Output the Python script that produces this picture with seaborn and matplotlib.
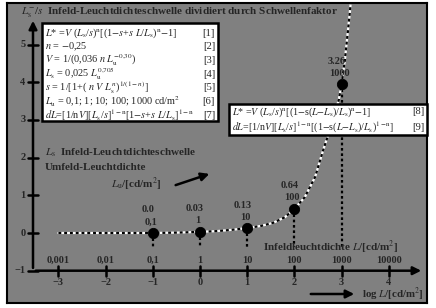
import matplotlib
matplotlib.use('Agg')
import matplotlib.pyplot as plt
from matplotlib.patches import Rectangle
import numpy as np
import pandas as pd
import seaborn as sns

# curve: log L  ->  Ls/s
curve_x = [-3.0, -2.0, -1.0, -0.5, 0.0, 0.35, 0.64, 1.0, 1.3, 1.55, 1.8, 2.0,
           2.22, 2.44, 2.61, 2.75, 2.94, 3.0, 3.07, 3.18, 3.22]
curve_y = [0.0, 0.0, 0.0, 0.01, 0.03, 0.05, 0.08, 0.13, 0.19, 0.27, 0.42, 0.64,
           0.95, 1.49, 2.20, 2.73, 3.53, 3.95, 4.59, 5.92, 6.5]

# marked points (Lu = 0,1 ... 1000)
pt_x = [-1, 0, 1, 2, 3]
pt_y = [0.0, 0.03, 0.13, 0.64, 3.95]
val_labels = ['0.0', '0.03', '0.13', '0.64', '3.26']
lu_labels = ['0,1', '1', '10', '100', '1000']

# axes
xticks = [-3, -2, -1, 0, 1, 2, 3, 4]
xtick_top = ['0,001', '0,01', '0,1', '1', '10', '100', '1000', '10000']
yticks = [-1, 0, 1, 2, 3, 4, 5]

box1_lines = [
    r'$L$* =$V$ ($L_\mathrm{s}$/$s$)$^\mathrm{n}$[(1$-$$s$+$s$ $L$/$L_\mathrm{s}$)$^\mathrm{n}$$-$1]',
    r'$n$ = $-$0,25',
    r'$V$ = 1/(0,036 $n$ $L_\mathrm{u}^{-0{,}30}$)',
    r'$L_\mathrm{s}$ = 0,025 $L_\mathrm{u}^{0{,}705}$',
    r'$s$ = 1/[1+( $n$ $V$ $L_\mathrm{s}^{n}$)$^{1/(1-n)}$]',
    r'$L_\mathrm{u}$ = 0,1; 1; 10; 100; 1000 cd/m$^2$',
    r'$dL$=[1/n$V$][$L_\mathrm{s}$/$s$]$^\mathrm{1-n}$[1$-$$s$+$s$ $L$/$L_\mathrm{s}$]$^\mathrm{1-n}$',
]
box1_nums = ['[1]', '[2]', '[3]', '[4]', '[5]', '[6]', '[7]']
box2_lines = [
    r'$L$* =$V$ ($L_\mathrm{s}$/$s$)$^\mathrm{n}$[(1$-$s($L$$-$$L_\mathrm{s}$)/$L_\mathrm{s}$)$^\mathrm{n}$$-$1]',
    r'$dL$=[1/n$V$][$L_\mathrm{s}$/$s$]$^\mathrm{1-n}$[(1$-$s($L$$-$$L_\mathrm{s}$)/$L_\mathrm{s}$)$^\mathrm{1-n}$]',
]
box2_nums = ['[8]', '[9]']

sns.set_theme(style='white')
plt.rcParams['font.family'] = ['Liberation Serif', 'DejaVu Serif']
plt.rcParams['mathtext.fontset'] = 'stix'

W, H = 436, 308
fig = plt.figure(figsize=(W / 100, H / 100), dpi=100)
fig.patch.set_facecolor('white')


def fx(p):
    return p / W


def fy(p):
    return 1 - p / H


# frame in pixels: x 7..427, y 3..303
ax = fig.add_axes([fx(7), fy(303), (427 - 7) / W, (303 - 3) / H])
ax.set_facecolor('#808080')
for s in ax.spines.values():
    s.set_color('black')
    s.set_linewidth(1.5)
ax.set_xticks([])
ax.set_yticks([])
# pixel mapping: x=0 at px 200, 47.2 px/unit ; y=0 at py 233, 37.7 px/unit
ax.set_xlim((7 - 200) / 47.2, (427 - 200) / 47.2)
ax.set_ylim((233 - 303) / 37.7, (233 - 3) / 37.7)

x_axis_pos = (33 - 200) / 47.2

# axes with arrows
ax.annotate('', xy=((424 - 200) / 47.2, -1), xytext=(x_axis_pos, -1),
            arrowprops=dict(arrowstyle='-|>', lw=1.8, color='black', mutation_scale=12))
ax.annotate('', xy=(x_axis_pos, (233 - 18) / 37.7), xytext=(x_axis_pos, -1),
            arrowprops=dict(arrowstyle='-|>', lw=1.8, color='black', mutation_scale=12))
for xt, lab in zip(xticks, xtick_top):
    ax.plot([xt, xt], [-1.13, -0.87], color='black', lw=1.8)
    ax.text(xt, -0.73, lab, ha='center', va='center', fontsize=7.5, fontweight='bold')
    ax.text(xt, -1.30, str(xt).replace('-', '\u2212'), ha='center', va='center',
            fontsize=7.5, fontweight='bold')
for yt in yticks:
    ax.plot([x_axis_pos - 0.1, x_axis_pos + 0.1], [yt, yt], color='black', lw=1.8)
    ax.text(x_axis_pos - 0.16, yt, str(yt).replace('-', '\u2212'), ha='right', va='center',
            fontsize=7.5, fontweight='bold')

# vertical dotted lines below the points
for x0, y0 in zip(pt_x, pt_y):
    ax.plot([x0, x0], [y0, -0.37], color='black', lw=1.6, linestyle=(0, (1.2, 1.2)))

# curve: white under black dashes
df = pd.DataFrame({'logL': curve_x, 'LsS': curve_y})
sns.lineplot(data=df, x='logL', y='LsS', color='white', lw=1.6, sort=False, ax=ax)
sns.lineplot(data=df, x='logL', y='LsS', color='black', lw=1.6, sort=False, ax=ax,
             linestyle=(0, (1.3, 1.3)))
pts = pd.DataFrame({'x': pt_x, 'y': pt_y})
sns.scatterplot(data=pts, x='x', y='y', color='black', s=55, edgecolor='black', zorder=5, ax=ax)
ax.set_xlabel('')
ax.set_ylabel('')

for x0, y0, v, lu in zip(pt_x, pt_y, val_labels, lu_labels):
    ax.annotate(v, (x0, y0), xytext=(-5, 23), textcoords='offset pixels', ha='center',
                va='center', fontsize=7.5, fontweight='bold')
    ax.annotate(lu, (x0, y0), xytext=(-2, 11), textcoords='offset pixels', ha='center',
                va='center', fontsize=7.5, fontweight='bold')

# title
fig.text(fx(21), fy(12), r'$L_\mathrm{s}^{-}/s$  Infeld-Leuchtdichteschwelle dividiert durch Schwellenfaktor',
         ha='left', va='center', fontsize=8, fontweight='bold')

# equation box 1
fig.patches.append(Rectangle((fx(42), fy(121)), (218 - 42) / W, (121 - 23) / H,
                             transform=fig.transFigure, facecolor='white', edgecolor='black',
                             lw=1.8, zorder=3, figure=fig))
for i, (t, n) in enumerate(zip(box1_lines, box1_nums)):
    yy = 33 + i * 13.7
    fig.text(fx(45), fy(yy), t, ha='left', va='center', fontsize=7.4, zorder=4)
    fig.text(fx(215), fy(yy), n, ha='right', va='center', fontsize=7.6, zorder=4)

# equation box 2
fig.patches.append(Rectangle((fx(229), fy(135)), (427 - 229) / W, (135 - 104) / H,
                             transform=fig.transFigure, facecolor='white', edgecolor='black',
                             lw=1.8, zorder=3, figure=fig))
for i, (t, n) in enumerate(zip(box2_lines, box2_nums)):
    yy = 112 + i * 15
    fig.text(fx(232), fy(yy), t, ha='left', va='center', fontsize=7.2, zorder=4)
    fig.text(fx(424), fy(yy), n, ha='right', va='center', fontsize=7.6, zorder=4)

# middle annotations
fig.text(fx(45), fy(153), r'$L_\mathrm{s}$  Infeld-Leuchtdichteschwelle', ha='left', va='center',
         fontsize=8, fontweight='bold')
fig.text(fx(45), fy(168), 'Umfeld-Leuchtdichte', ha='left', va='center',
         fontsize=8, fontweight='bold')
fig.text(fx(111), fy(184), r'$L_\mathrm{u}$/[cd/m$^2$]', ha='left', va='center',
         fontsize=8, fontweight='bold')
ax.annotate('', xy=((212 - 200) / 47.2, (233 - 173) / 37.7),
            xytext=((173 - 200) / 47.2, (233 - 186) / 37.7),
            arrowprops=dict(arrowstyle='-|>', lw=1.8, color='black', mutation_scale=12))

fig.text(fx(263), fy(247), r'Infeldleuchtdichte $L$/[cd/m$^2$]', ha='left', va='center',
         fontsize=8, fontweight='bold')
ax.annotate('', xy=((357 - 200) / 47.2, (233 - 294) / 37.7),
            xytext=((308 - 200) / 47.2, (233 - 294) / 37.7),
            arrowprops=dict(arrowstyle='-|>', lw=1.8, color='black', mutation_scale=12))
fig.text(fx(362), fy(294.5), r'log $L$/[cd/m$^2$]', ha='left', va='center',
         fontsize=7.8, fontweight='bold')

fig.savefig('out.png', dpi=100, facecolor='white')
